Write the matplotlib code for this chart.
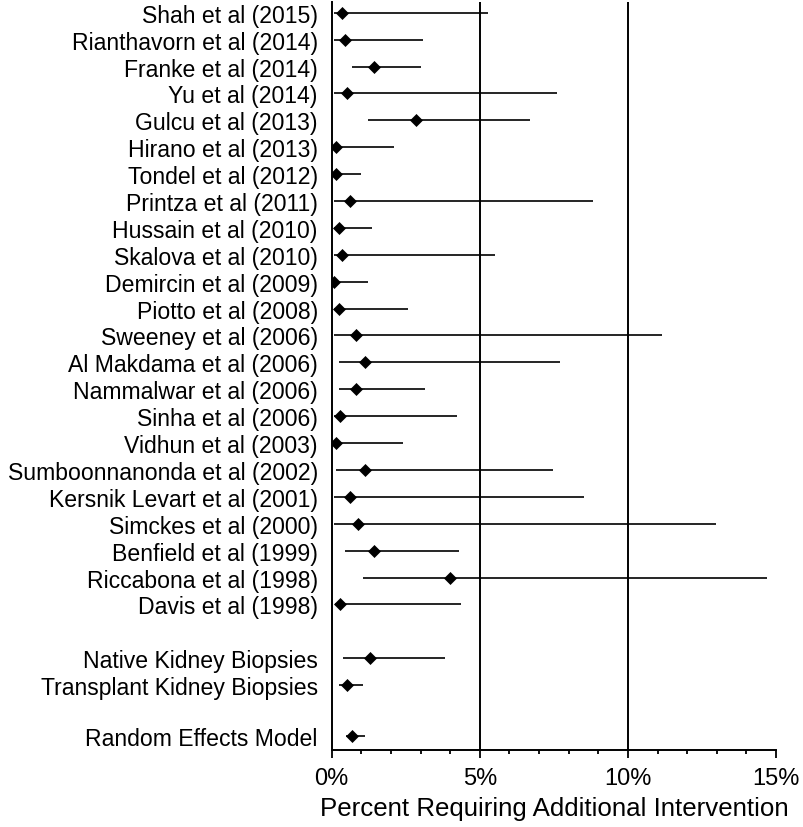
import matplotlib
matplotlib.use("Agg")
import matplotlib.pyplot as plt
from matplotlib.ticker import MultipleLocator, FuncFormatter

studies = [
    "Shah et al (2015)", "Rianthavorn et al (2014)", "Franke et al (2014)",
    "Yu et al (2014)", "Gulcu et al (2013)", "Hirano et al (2013)",
    "Tondel et al (2012)", "Printza et al (2011)", "Hussain et al (2010)",
    "Skalova et al (2010)", "Demircin et al (2009)", "Piotto et al (2008)",
    "Sweeney et al (2006)", "Al Makdama et al (2006)", "Nammalwar et al (2006)",
    "Sinha et al (2006)", "Vidhun et al (2003)", "Sumboonnanonda et al (2002)",
    "Kersnik Levart et al (2001)", "Simckes et al (2000)", "Benfield et al (1999)",
    "Riccabona et al (1998)", "Davis et al (1998)",
]
study_est = [0.36, 0.45, 1.43, 0.53, 2.86, 0.15, 0.15, 0.60, 0.23, 0.36, 0.06, 0.23,
             0.82, 1.13, 0.82, 0.29, 0.15, 1.13, 0.60, 0.90, 1.44, 4.00, 0.29]
study_lo = [0.09, 0.09, 0.68, 0.09, 1.22, 0.00, 0.00, 0.09, 0.09, 0.09, 0.00, 0.09,
            0.09, 0.23, 0.23, 0.09, 0.00, 0.15, 0.09, 0.09, 0.46, 1.06, 0.12]
study_hi = [5.27, 3.09, 3.02, 7.61, 6.71, 2.11, 0.98, 8.82, 1.35, 5.50, 1.21, 2.56,
            11.16, 7.69, 3.16, 4.23, 2.41, 7.46, 8.52, 12.97, 4.28, 14.70, 4.37]

groups = ["Native Kidney Biopsies", "Transplant Kidney Biopsies"]
group_est = [1.28, 0.53]
group_lo = [0.38, 0.24]
group_hi = [3.84, 1.06]

overall = ["Random Effects Model"]
overall_est = [0.68]
overall_lo = [0.47]
overall_hi = [1.13]

xticks_major = [0, 5, 10, 15]
xlabel = "Percent Requiring Additional Intervention"

plt.rcParams['font.family'] = ['Liberation Sans', 'DejaVu Sans']
plt.rcParams['font.size'] = 16.6

fig = plt.figure(figsize=(8.04, 8.28), dpi=100)
ax = fig.add_axes([0.4126, 0.0934, 0.5526, 0.9030])

labels = studies + groups + overall
est = study_est + group_est + overall_est
lo = study_lo + group_lo + overall_lo
hi = study_hi + group_hi + overall_hi
n = len(studies)
ypos = list(range(n)) + [n + 1, n + 2] + [n + 3.9]

for y, e, l, h in zip(ypos, est, lo, hi):
    ax.hlines(y, l, h, color='black', lw=1.2, zorder=2)
    ax.plot([e], [y], marker='D', ms=6, color='black', mec='black', mew=0.5, zorder=3)

for v in xticks_major[1:3]:
    ax.axvline(v, color='black', lw=1.4, zorder=1)

ax.set_xlim(0, 15)
ax.set_ylim(27.40, -0.40)
ax.set_yticks(ypos)
ax.set_yticklabels(labels)
ax.tick_params(axis='y', length=0, pad=10)
ax.set_xticks(xticks_major)
ax.xaxis.set_minor_locator(MultipleLocator(1))
ax.xaxis.set_major_formatter(FuncFormatter(lambda v, p: f"{int(v)}%"))
ax.tick_params(axis='x', which='major', direction='out', length=5.5, width=1.3, pad=7,
               labelsize=17)
ax.tick_params(axis='x', which='minor', direction='out', length=3, width=1.3)
ax.set_xlabel(xlabel, labelpad=5, fontsize=18.6)

for s in ['top', 'right']:
    ax.spines[s].set_visible(False)
for s in ['left', 'bottom']:
    ax.spines[s].set_linewidth(1.4)

fig.savefig("out.png", dpi=100)
